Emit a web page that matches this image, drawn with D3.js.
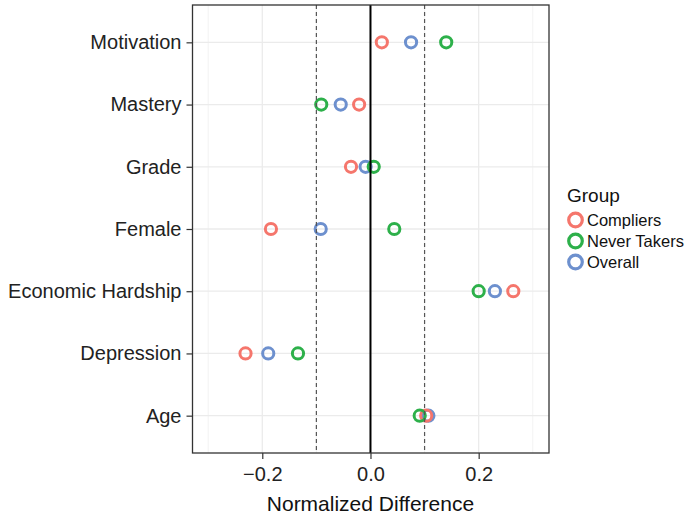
<!DOCTYPE html>
<html>
<head>
<meta charset="utf-8">
<script src="https://cdn.jsdelivr.net/npm/d3@7"></script>
<style>
  body { margin: 0; background: #fff; }
  text { font-family: "Liberation Sans", Arial, sans-serif; }
</style>
</head>
<body>
<div id="canvas"></div>
<script>
"use strict"

let drawingWidth = 687;
let drawingHeight = 517;

// variables, top to bottom
let variables = ["Motivation", "Mastery", "Grade", "Female", "Economic Hardship", "Depression", "Age"];
let groups = ["Compliers", "Never Takers", "Overall"];
let groupColors = ["#F5766C", "#2DB04A", "#6D90CE"];

let compliers   = [0.021, -0.021, -0.036, -0.184, 0.264, -0.231, 0.103];
let neverTakers = [0.140, -0.091, 0.006, 0.044, 0.200, -0.134, 0.091];
let overall     = [0.075, -0.055, -0.009, -0.092, 0.230, -0.189, 0.107];

let xTicks = [-0.2, 0.0, 0.2];
let xMinor = [-0.3, -0.1, 0.1, 0.3];
let refLines = [-0.1, 0.1];

let panelLeft = 192.5;
let panelRight = 549;
let panelTop = 5;
let panelBottom = 453;

let drawing = d3.select("#canvas")
    .append("svg")
    .attr("width", drawingWidth)
    .attr("height", drawingHeight);

let x = d3.scaleLinear()
    .domain([-0.329, 0.330])
    .range([panelLeft, panelRight]);

let y = d3.scalePoint()
    .domain(variables)
    .range([panelTop, panelBottom])
    .padding(0.6);

// grid
let grid = drawing.append("g");
grid.selectAll(".minor")
    .data(xMinor)
    .join("line")
    .attr("x1", d => x(d)).attr("x2", d => x(d))
    .attr("y1", panelTop).attr("y2", panelBottom)
    .attr("stroke", "#ececec").attr("stroke-width", 0.7);
grid.selectAll(".major")
    .data(xTicks)
    .join("line")
    .attr("x1", d => x(d)).attr("x2", d => x(d))
    .attr("y1", panelTop).attr("y2", panelBottom)
    .attr("stroke", "#ebebeb").attr("stroke-width", 1.3);
grid.selectAll(".hmajor")
    .data(variables)
    .join("line")
    .attr("x1", panelLeft).attr("x2", panelRight)
    .attr("y1", d => y(d)).attr("y2", d => y(d))
    .attr("stroke", "#ebebeb").attr("stroke-width", 1.3);

// points: overall first, then compliers, never takers on top
let layers = [
    {values: overall, color: groupColors[2]},
    {values: compliers, color: groupColors[0]},
    {values: neverTakers, color: groupColors[1]}
];
layers.forEach(layer => {
    drawing.append("g").selectAll("circle")
        .data(variables)
        .join("circle")
        .attr("cx", (d, i) => x(layer.values[i]))
        .attr("cy", d => y(d))
        .attr("r", 5.6)
        .attr("fill", "none")
        .attr("stroke", layer.color)
        .attr("stroke-width", 3);
});

// reference lines
drawing.selectAll(".ref")
    .data(refLines)
    .join("line")
    .attr("x1", d => x(d)).attr("x2", d => x(d))
    .attr("y1", panelTop).attr("y2", panelBottom)
    .attr("stroke", "#555").attr("stroke-width", 1.2)
    .attr("stroke-dasharray", "4,3");
drawing.append("line")
    .attr("x1", x(0)).attr("x2", x(0))
    .attr("y1", panelTop).attr("y2", panelBottom)
    .attr("stroke", "#000").attr("stroke-width", 2);

// panel border
drawing.append("rect")
    .attr("x", panelLeft).attr("y", panelTop)
    .attr("width", panelRight - panelLeft)
    .attr("height", panelBottom - panelTop)
    .attr("fill", "none")
    .attr("stroke", "#333").attr("stroke-width", 1.3);

// axes
let xAxis = drawing.append("g")
    .attr("transform", `translate(0,${panelBottom})`)
    .call(d3.axisBottom(x).tickValues(xTicks).tickFormat(d3.format(".1f")).tickSize(6).tickPadding(4));
let yAxis = drawing.append("g")
    .attr("transform", `translate(${panelLeft},0)`)
    .call(d3.axisLeft(y).tickSize(6).tickPadding(5));

[xAxis, yAxis].forEach(a => {
    a.select(".domain").remove();
    a.selectAll(".tick line").attr("stroke", "#333").attr("stroke-width", 1.2);
    a.selectAll(".tick text").attr("fill", "#222").attr("font-size", 20)
        .attr("font-family", "'Liberation Sans', Arial, sans-serif");
});
xAxis.selectAll(".tick text").attr("dy", "0.92em");

drawing.append("text")
    .attr("x", x(0))
    .attr("y", 511)
    .attr("text-anchor", "middle")
    .attr("font-size", 21)
    .attr("fill", "#111")
    .text("Normalized Difference");

// legend
let legend = drawing.append("g").attr("transform", "translate(567,0)");
legend.append("text")
    .attr("x", 0).attr("y", 202)
    .attr("font-size", 19)
    .attr("fill", "#111")
    .text("Group");
legend.selectAll(".key")
    .data(groups)
    .join("circle")
    .attr("cx", 8.5)
    .attr("cy", (d, i) => 220 + i * 21)
    .attr("r", 6.8)
    .attr("fill", "none")
    .attr("stroke", (d, i) => groupColors[i])
    .attr("stroke-width", 3.2);
legend.selectAll(".label")
    .data(groups)
    .join("text")
    .attr("x", 20)
    .attr("y", (d, i) => 220 + i * 21)
    .attr("dy", "0.35em")
    .attr("font-size", 16.5)
    .attr("fill", "#111")
    .text(d => d);
</script>
</body>
</html>
